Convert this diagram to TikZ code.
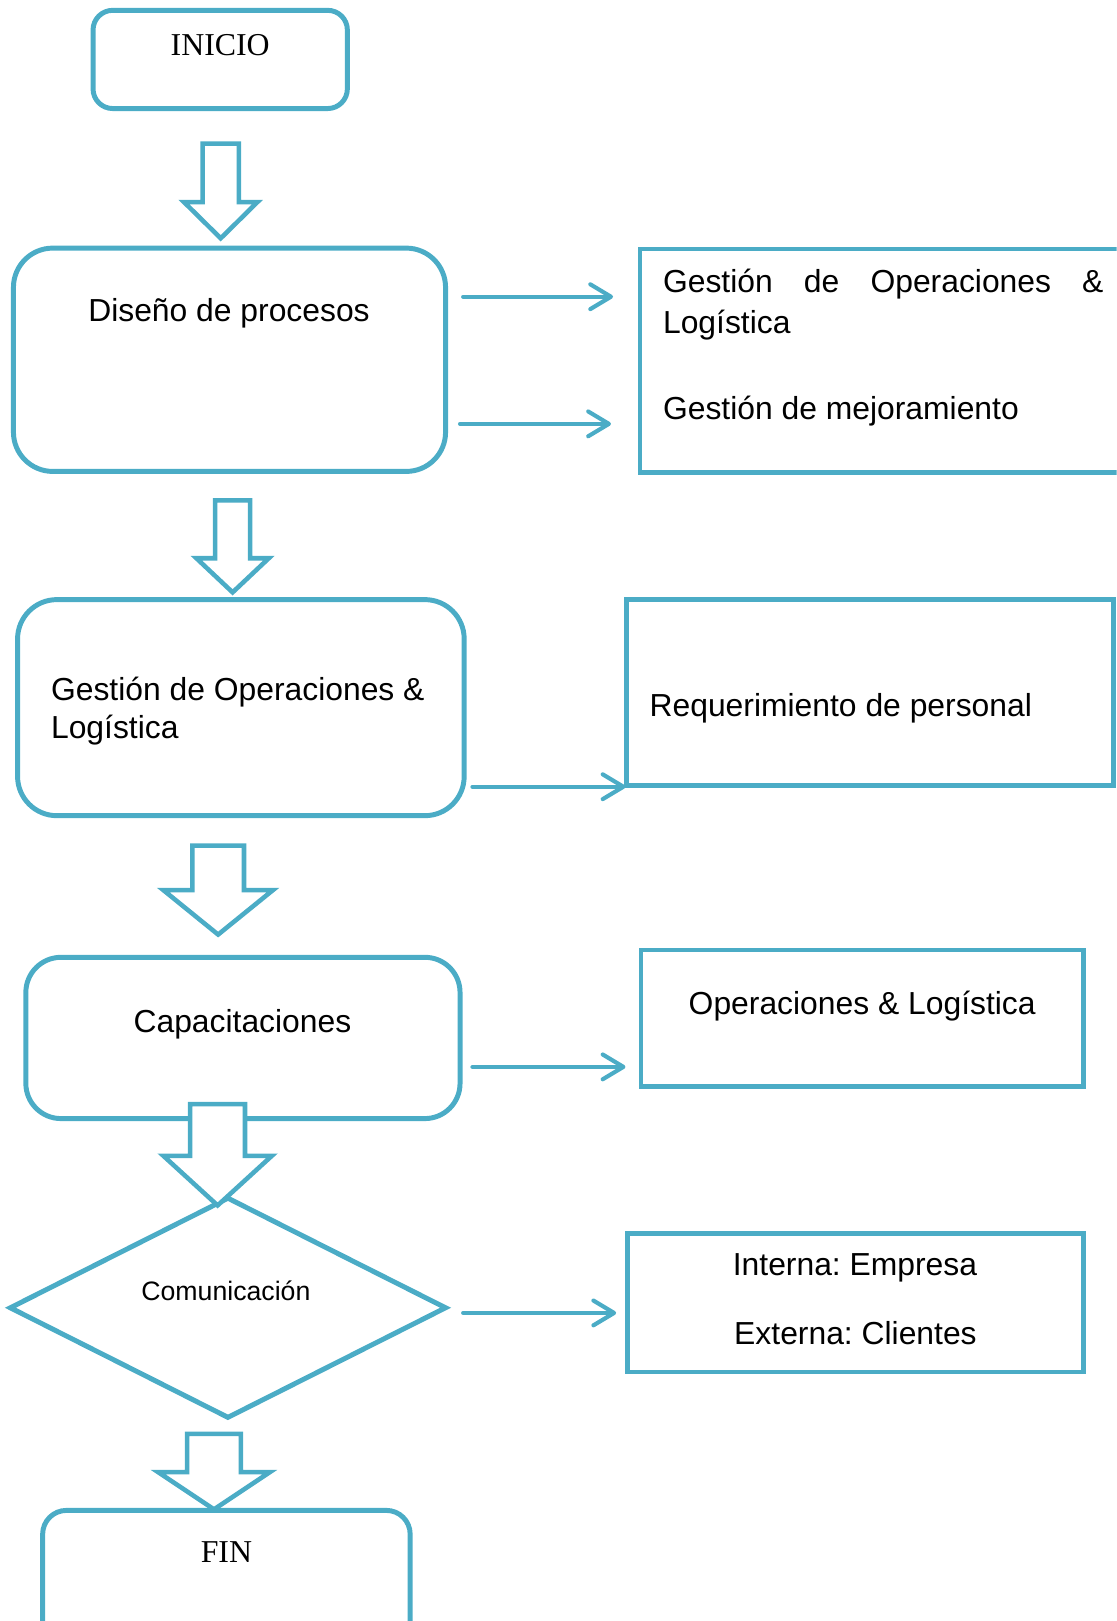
\documentclass[tikz,border=0pt]{standalone}
\usepackage{fontspec}
\setmainfont{Liberation Serif}
\setsansfont{Liberation Sans}
\usetikzlibrary{shapes.geometric,arrows.meta,calc}
\definecolor{aqua}{HTML}{4BACC6}
\frenchspacing
% hollow downward block arrow: centre x, half shaft, half head, top y, shoulder y, tip y
\newcommand\hollowdown[6]{%
  \draw[fat] ({#1-#2},#4) -- ({#1+#2},#4) -- ({#1+#2},#5) -- ({#1+#3},#5)
    -- (#1,#6) -- ({#1-#3},#5) -- ({#1-#2},#5) -- cycle;}
\begin{document}
\begin{tikzpicture}[x=0.5pt,y=-0.5pt,
  box/.style={draw=aqua,line width=2.4pt,inner sep=0pt,outer sep=0pt},
  rbox/.style={box,rounded corners=#1},
  sqbox/.style={box,line width=2.2pt},
  txt/.style={font=\fontsize{15.4}{18}\selectfont\sffamily,inner sep=0pt},
  small/.style={font=\fontsize{12.9}{15}\selectfont\sffamily,inner sep=0pt},
  serif/.style={font=\fontsize{15.4}{18}\selectfont\rmfamily,inner sep=0pt},
  flow/.style={draw=aqua,line width=2pt,line cap=round,
    -{Straight Barb[length=10pt,width=12pt,round]}},
  fat/.style={draw=aqua,fill=white,line width=2.2pt,line join=miter},
]
\useasboundingbox (0,0) rectangle (1080,1568);
\clip (0,0) rectangle (1080,1568);

% left column of process boxes
\node[rbox=9.5pt,minimum width=123pt,minimum height=47.5pt] (inicio) at (213,57.5) {};
\node[rbox=19pt,minimum width=209pt,minimum height=108pt] (diseno) at (222,348) {};
\node[rbox=19pt,minimum width=216pt,minimum height=104.5pt] (gestion) at (233,684.5) {};
\node[rbox=17pt,minimum width=210pt,minimum height=78pt] (capac) at (235,1004) {};
\node[draw=aqua,line width=2.4pt,inner sep=0pt,outer sep=0pt,diamond,
      minimum width=210.5pt,minimum height=106pt] (comun) at (220.5,1265) {};
\node[rbox=11.5pt,minimum width=177.75pt,minimum height=69.5pt] (fin) at (219,1530.5) {};

% right column of result boxes
\node[sqbox,minimum width=240.5pt,minimum height=108pt] (r1) at (859.5,349) {};
\node[sqbox,minimum width=235.5pt,minimum height=90pt] (r2) at (841.5,670) {};
\node[sqbox,minimum width=214pt,minimum height=66pt] (r3) at (834,985) {};
\node[sqbox,minimum width=220.5pt,minimum height=67pt] (r4) at (827.5,1260) {};

% texts
\node[serif,anchor=base] (tinicio) at (213,54) {INICIO};
\node[txt,anchor=base] (tdiseno) at (221.5,311) {Diseño de procesos};
\node[txt,anchor=base west] (tr1a) at (641,283)
  {\hbox to 213pt{Gestión\hfill de\hfill Operaciones\hfill \&}};
\node[txt,anchor=base west] (tr1b) at (641,323) {Logística};
\node[txt,anchor=base west] (tr1c) at (641,406) {Gestión de mejoramiento};
\node[txt,anchor=base west] (tgesa) at (49,678) {Gestión de Operaciones \&};
\node[txt,anchor=base west] (tgesb) at (49,714) {Logística};
\node[txt,anchor=base west] (tr2) at (628,693) {Requerimiento de personal};
\node[txt,anchor=base] (tcapac) at (234.5,999) {Capacitaciones};
\node[txt,anchor=base] (tr3) at (834,981) {Operaciones \& Logística};
\node[small,anchor=base] (tcomun) at (218.5,1258) {Comunicación};
\node[txt,anchor=base] (tr4a) at (827,1234) {Interna: Empresa};
\node[txt,anchor=base] (tr4b) at (827.5,1301) {Externa: Clientes};
\node[serif,anchor=base] (tfin) at (219,1511) {FIN};

% side connectors
\coordinate (s1) at (448,287);  \coordinate (e1) at (593,287);
\coordinate (s2) at (445,410);  \coordinate (e2) at (591,410);
\coordinate (s3) at (457,761);  \coordinate (e3) at (605,761);
\coordinate (s4) at (457,1032); \coordinate (e4) at (605,1032);
\coordinate (s5) at (448,1270); \coordinate (e5) at (596,1270);
\draw[flow] (s1) -- (e1);
\draw[flow] (s2) -- (e2);
\draw[flow] (s3) -- (e3);
\draw[flow] (s4) -- (e4);
\draw[flow] (s5) -- (e5);

% hollow arrows between the steps
\hollowdown{213.5}{17.5}{35.5}{139}{195.5}{230.5}
\hollowdown{225}{17}{35}{484}{540}{573}
\hollowdown{211}{25}{53}{818}{861}{904}
\hollowdown{210.5}{26.5}{52.5}{1068}{1118}{1166}
\hollowdown{207}{26}{54}{1387}{1424}{1460}
\end{tikzpicture}
\end{document}
